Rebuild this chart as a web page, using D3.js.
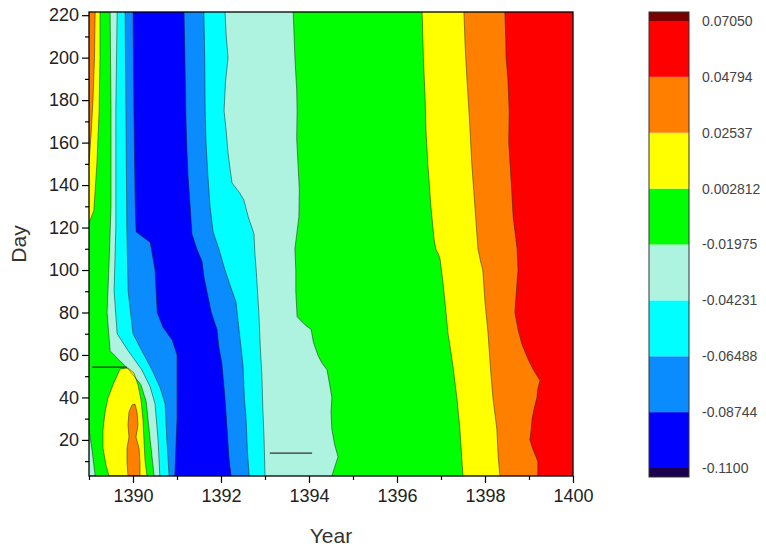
<!DOCTYPE html>
<html>
<head>
<meta charset="utf-8">
<script src="https://cdn.jsdelivr.net/npm/d3@7"></script>
<style>
  body { margin: 0; background: #fff; }
  svg { font-family: "Liberation Sans", Arial, sans-serif; }
</style>
</head>
<body>
<script>
// contour levels and colours (bottom -> top of colour bar)
var levels = [-0.1100, -0.08744, -0.06488, -0.04231, -0.01975, 0.002812, 0.02537, 0.04794, 0.07050];
var levelLabels = ["-0.1100", "-0.08744", "-0.06488", "-0.04231", "-0.01975", "0.002812", "0.02537", "0.04794", "0.07050"];
var bandColors = ["#0000ff", "#0a8cff", "#00ffff", "#aef2e0", "#00ff00", "#ffff00", "#ff8000", "#ff0000"];
var lowCap = "#1c0050", highCap = "#7a0000";

var xTicks = [1390, 1392, 1394, 1396, 1398, 1400];
var xMinor = [1389, 1391, 1393, 1395, 1397, 1399];
var yTicks = [20, 40, 60, 80, 100, 120, 140, 160, 180, 200, 220];
var yMinor = [10, 30, 50, 70, 90, 110, 130, 150, 170, 190, 210];

// contour lines, [day, year]
// right side: value rises to the right of the line
var rDodger = [[222,1391.16],[200,1391.18],[175,1391.20],[160,1391.22],[145,1391.25],[130,1391.30],[117,1391.34],[110,1391.45],[104,1391.57],[96,1391.62],[88,1391.70],[80,1391.78],[72,1391.91],[64,1391.95],[56,1392.02],[40,1392.09],[25,1392.14],[12,1392.18],[3,1392.23]];
var rCyan = [[222,1391.61],[200,1391.63],[175,1391.64],[160,1391.66],[145,1391.70],[130,1391.75],[118,1391.82],[110,1391.95],[100,1392.09],[92,1392.22],[85,1392.34],[70,1392.42],[55,1392.50],[40,1392.53],[30,1392.57],[15,1392.60],[3,1392.64]];
var rPale = [[222,1392.09],[210,1392.12],[200,1392.16],[188,1392.10],[175,1392.07],[165,1392.12],[155,1392.16],[141,1392.25],[137,1392.40],[133,1392.52],[125,1392.62],[117,1392.75],[108,1392.77],[100,1392.80],[80,1392.86],[65,1392.89],[50,1392.93],[35,1392.95],[20,1392.98],[3,1393.00]];
var rGreen = [[222,1393.64],[200,1393.68],[185,1393.72],[175,1393.73],[162,1393.72],[150,1393.75],[138,1393.78],[125,1393.77],[110,1393.68],[100,1393.70],[90,1393.70],[78,1393.73],[74,1393.92],[72,1394.05],[66,1394.10],[60,1394.20],[56,1394.30],[53,1394.41],[46,1394.47],[40,1394.52],[33,1394.50],[25,1394.52],[18,1394.58],[12,1394.66],[7,1394.58],[3,1394.52]];
var rYellow = [[222,1396.57],[200,1396.60],[180,1396.64],[165,1396.66],[150,1396.70],[130,1396.77],[115,1396.84],[110,1396.88],[107,1396.95],[105,1396.98],[95,1397.04],[85,1397.09],[70,1397.16],[62,1397.22],[55,1397.27],[40,1397.36],[25,1397.43],[12,1397.47],[3,1397.50]];
var rOrange = [[222,1397.52],[205,1397.55],[190,1397.59],[170,1397.65],[150,1397.70],[130,1397.77],[110,1397.84],[104,1397.90],[100,1397.95],[85,1398.00],[70,1398.07],[55,1398.12],[40,1398.18],[25,1398.27],[12,1398.30],[3,1398.34]];
var rRed = [[222,1398.45],[210,1398.47],[200,1398.48],[190,1398.52],[175,1398.55],[160,1398.54],[150,1398.57],[140,1398.60],[125,1398.64],[115,1398.70],[110,1398.73],[100,1398.75],[92,1398.72],[80,1398.68],[72,1398.75],[65,1398.84],[58,1398.98],[53,1399.10],[48,1399.25],[44,1399.20],[40,1399.18],[35,1399.12],[30,1399.07],[25,1399.05],[20,1399.02],[15,1399.10],[10,1399.20],[3,1399.20]];

// left side: value rises to the left of the line
var lDodger = [[222,1390.00],[175,1390.02],[130,1390.05],[118,1390.07],[113,1390.39],[100,1390.50],[80,1390.55],[73,1390.68],[67,1390.89],[60,1391.00],[30,1391.00],[3,1390.95]];
var lCyan = [[222,1389.82],[175,1389.84],[120,1389.86],[90,1389.89],[70,1390.00],[62,1390.20],[53,1390.43],[45,1390.61],[37,1390.73],[20,1390.77],[3,1390.82]];
var lPale = [[222,1389.64],[175,1389.61],[120,1389.61],[90,1389.57],[70,1389.64],[62,1389.89],[53,1390.20],[45,1390.39],[37,1390.50],[20,1390.57],[3,1390.61]];
var lGreen = [[222,1389.48],[175,1389.50],[130,1389.50],[100,1389.45],[80,1389.41],[62,1389.48],[58,1389.66],[53,1389.91],[46,1390.18],[38,1390.30],[20,1390.39],[3,1390.48]];
var lYellow = [[222,1389.25],[200,1389.25],[175,1389.23],[150,1389.18],[128,1389.11],[122,1389.00]];
var lOrange = [[222,1389.14],[200,1389.125],[180,1389.09],[165,1389.05],[150,1389.00]];

// closed patches, [year, day]
var yellowBlob = [[1389.705,53.4],[1389.886,53.9],[1390.023,51.5],[1390.114,45.9],[1390.182,38.8],[1390.227,29.4],[1390.25,20.0],[1390.273,10.5],[1390.318,3],[1389.455,3],[1389.386,8.2],[1389.318,16.2],[1389.318,24.7],[1389.364,33.1],[1389.432,39.7],[1389.545,45.9],[1389.636,50.1]];
var orangeBlob = [[1389.977,36.4],[1390.045,36.9],[1390.091,33.1],[1390.114,27.0],[1390.068,21.4],[1390.136,16.2],[1390.159,9.6],[1390.159,3],[1389.886,3],[1389.864,9.6],[1389.864,16.2],[1389.909,21.4],[1389.886,27.0],[1389.909,33.1]];
var paleCorner = [[1389,3],[1389.14,3],[1389.07,15],[1389,25]];
var stubLines = [[[1389.07,54.3],[1389.86,54.3]], [[1393.11,13.8],[1394.07,13.8]]];

var width = 766, height = 550;
var x = d3.scaleLinear().domain([1389, 1400]).range([89, 573]);
var y = d3.scaleLinear().domain([3, 221.5]).range([476, 12]);
var cb = d3.scaleLinear().domain([levels[0], levels[levels.length - 1]]).range([468, 21]);

var svg = d3.select("body").append("svg").attr("width", width).attr("height", height);

svg.append("clipPath").attr("id", "plot")
  .append("rect").attr("x", x(1389)).attr("y", y(221.5))
  .attr("width", x(1400) - x(1389)).attr("height", y(3) - y(221.5));

var g = svg.append("g").attr("clip-path", "url(#plot)");

// background = lowest band
g.append("rect").attr("x", x(1389)).attr("y", y(221.5))
  .attr("width", x(1400) - x(1389)).attr("height", y(3) - y(221.5))
  .attr("fill", bandColors[0]);

var rightArea = d3.area().y(d => y(d[0])).x0(d => x(d[1])).x1(x(1400));
var leftArea = d3.area().y(d => y(d[0])).x0(x(1389)).x1(d => x(d[1]));
var bLine = d3.line().x(d => x(d[1])).y(d => y(d[0]));
var pLine = d3.line().x(d => x(d[0])).y(d => y(d[1]));

var rightSide = [[rDodger, 1], [rCyan, 2], [rPale, 3], [rGreen, 4], [rYellow, 5], [rOrange, 6], [rRed, 7]];
var leftSide = [[lDodger, 1], [lCyan, 2], [lPale, 3], [lGreen, 4], [lYellow, 5], [lOrange, 6]];

rightSide.forEach(function (s) {
  g.append("path").attr("d", rightArea(s[0])).attr("fill", bandColors[s[1]]);
});
leftSide.forEach(function (s) {
  g.append("path").attr("d", leftArea(s[0])).attr("fill", bandColors[s[1]]);
});

g.append("path").attr("d", pLine(paleCorner) + "Z").attr("fill", bandColors[3]);
g.append("path").attr("d", pLine(yellowBlob) + "Z").attr("fill", bandColors[5]);
g.append("path").attr("d", pLine(orangeBlob) + "Z").attr("fill", bandColors[6]);

// contour lines
var lineStyle = function (sel) {
  sel.attr("fill", "none").attr("stroke", "#1a1a1a").attr("stroke-width", 0.7).attr("stroke-opacity", 0.7);
};
rightSide.concat(leftSide).forEach(function (s) {
  g.append("path").attr("d", bLine(s[0])).call(lineStyle);
});
g.append("path").attr("d", pLine(paleCorner)).call(lineStyle);
g.append("path").attr("d", pLine(yellowBlob) + "Z").call(lineStyle);
g.append("path").attr("d", pLine(orangeBlob) + "Z").call(lineStyle);

stubLines.forEach(function (s) {
  g.append("path").attr("d", pLine(s)).attr("fill", "none")
    .attr("stroke", "#333").attr("stroke-width", 1.3);
});

// frame
svg.append("rect").attr("x", x(1389)).attr("y", y(221.5))
  .attr("width", x(1400) - x(1389)).attr("height", y(3) - y(221.5))
  .attr("fill", "none").attr("stroke", "#000").attr("stroke-width", 1.3);

// axes
svg.append("g").attr("transform", "translate(0," + y(3) + ")")
  .call(d3.axisBottom(x).tickValues(xTicks).tickFormat(d3.format("d")).tickSize(7).tickSizeOuter(0).tickPadding(6));
svg.append("g").attr("transform", "translate(0," + y(3) + ")")
  .call(d3.axisBottom(x).tickValues(xMinor).tickFormat("").tickSize(4).tickSizeOuter(0));
svg.append("g").attr("transform", "translate(" + x(1389) + ",0)")
  .call(d3.axisLeft(y).tickValues(yTicks).tickSize(7).tickSizeOuter(0).tickPadding(3));
svg.append("g").attr("transform", "translate(" + x(1389) + ",0)")
  .call(d3.axisLeft(y).tickValues(yMinor).tickFormat("").tickSize(4).tickSizeOuter(0));

svg.selectAll(".domain").remove();
svg.selectAll(".tick line").attr("stroke", "#000").attr("stroke-width", 1.2);
svg.selectAll(".tick text").attr("font-size", 18).attr("fill", "#222")
  .attr("font-family", "Liberation Sans, Arial, sans-serif");

svg.append("text").attr("x", (x(1389) + x(1400)) / 2).attr("y", 543)
  .attr("text-anchor", "middle").attr("font-size", 21).attr("fill", "#333").text("Year");
svg.append("text").attr("transform", "translate(26," + (y(3) + y(221.5)) / 2 + ") rotate(-90)")
  .attr("text-anchor", "middle").attr("font-size", 21).attr("fill", "#333").text("Day");

// colour bar
var cbx = 649, cbw = 40;
var cbar = svg.append("g");
cbar.append("rect").attr("x", cbx).attr("y", cb(levels[levels.length - 1]) - 9)
  .attr("width", cbw).attr("height", 9).attr("fill", highCap);
cbar.append("rect").attr("x", cbx).attr("y", cb(levels[0]))
  .attr("width", cbw).attr("height", 9).attr("fill", lowCap);
cbar.selectAll(".band").data(bandColors).enter().append("rect")
  .attr("x", cbx)
  .attr("y", (d, i) => cb(levels[i + 1]))
  .attr("width", cbw)
  .attr("height", (d, i) => cb(levels[i]) - cb(levels[i + 1]))
  .attr("fill", d => d);
cbar.append("rect").attr("x", cbx).attr("y", cb(levels[levels.length - 1]) - 9)
  .attr("width", cbw).attr("height", cb(levels[0]) - cb(levels[levels.length - 1]) + 18)
  .attr("fill", "none").attr("stroke", "#333").attr("stroke-width", 1);
cbar.selectAll(".lab").data(levels).enter().append("text")
  .attr("x", 702).attr("y", d => cb(d)).attr("dy", "0.35em")
  .attr("font-size", 14).attr("fill", "#444")
  .text((d, i) => levelLabels[i]);
</script>
</body>
</html>
